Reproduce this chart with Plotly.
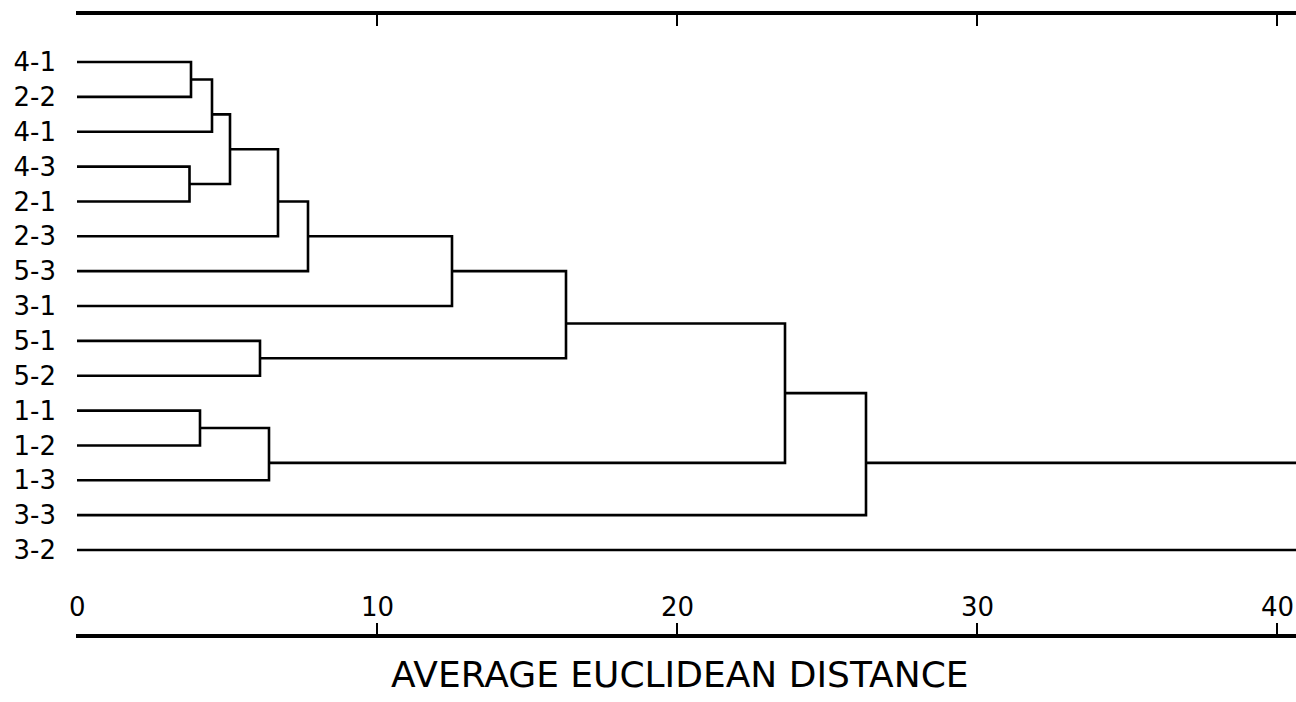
import plotly.graph_objects as go

# Leaf labels, top to bottom
leaf_labels = ["4-1", "2-2", "4-1", "4-3", "2-1", "2-3", "5-3", "3-1",
               "5-1", "5-2", "1-1", "1-2", "1-3", "3-3", "3-2"]

# Merges: children refer to leaves (0..14) or earlier merges (15 + k)
merge_left = [0, 15, 3, 16, 18, 19, 20, 8, 21, 10, 24, 23, 26, 27]
merge_right = [1, 2, 4, 17, 5, 6, 7, 9, 22, 11, 12, 25, 13, 14]
merge_height = [3.8, 4.5, 3.75, 5.1, 6.7, 7.7, 12.5, 6.1, 16.3, 4.1, 6.4, 23.6, 26.3, 45.0]
merge_pos = [0.5, 1.5, 3.5, 2.5, 4.0, 5.0, 6.0, 8.5, 7.5, 10.5, 11.5, 9.5, 11.5, 12.75]

x_ticks = [0, 10, 20, 30, 40]
x_title = "AVERAGE EUCLIDEAN DISTANCE"

n = len(leaf_labels)
node_h = [0.0] * n + list(merge_height)
node_y = list(range(n)) + list(merge_pos)

xs, ys = [], []
for k in range(len(merge_left)):
    a, b = merge_left[k], merge_right[k]
    h = merge_height[k]
    xs += [node_h[a], h, h, node_h[b], None]
    ys += [node_y[a], node_y[a], node_y[b], node_y[b], None]

fig = go.Figure()
fig.add_trace(go.Scatter(x=xs, y=ys, mode="lines",
                         line=dict(color="black", width=2.6),
                         hoverinfo="skip", showlegend=False))

font_family = "DejaVu Sans, Verdana, sans-serif"

# Tick labels drawn above the bottom axis line
for v in x_ticks:
    fig.add_annotation(x=v, y=0.044, xref="x", yref="paper", text=str(v),
                       showarrow=False, xanchor="center", yanchor="middle",
                       font=dict(size=26, family=font_family, color="black"))

# Axis title
fig.add_annotation(x=0.495, y=-0.066, xref="paper", yref="paper", text=x_title,
                   showarrow=False, xanchor="center", yanchor="middle",
                   font=dict(size=36, family=font_family, color="black"))

fig.update_layout(
    width=1296, height=702,
    margin=dict(l=76, r=0, t=15, b=68),
    paper_bgcolor="white", plot_bgcolor="white",
    font=dict(family=font_family, color="black"),
    xaxis=dict(
        range=[-0.0333, 40.6333], tickvals=x_ticks,
        ticks="inside", ticklen=11, tickwidth=2, tickcolor="black",
        showline=True, linewidth=4, linecolor="black", mirror="ticks",
        showticklabels=False, showgrid=False, zeroline=False,
    ),
    yaxis=dict(
        range=[16.41, -1.35], tickvals=list(range(n)), ticktext=leaf_labels,
        ticks="", showline=False, showgrid=False, zeroline=False,
        tickfont=dict(size=26, color="black"), ticklabelstandoff=19,
    ),
)

fig.write_html("out.html")
